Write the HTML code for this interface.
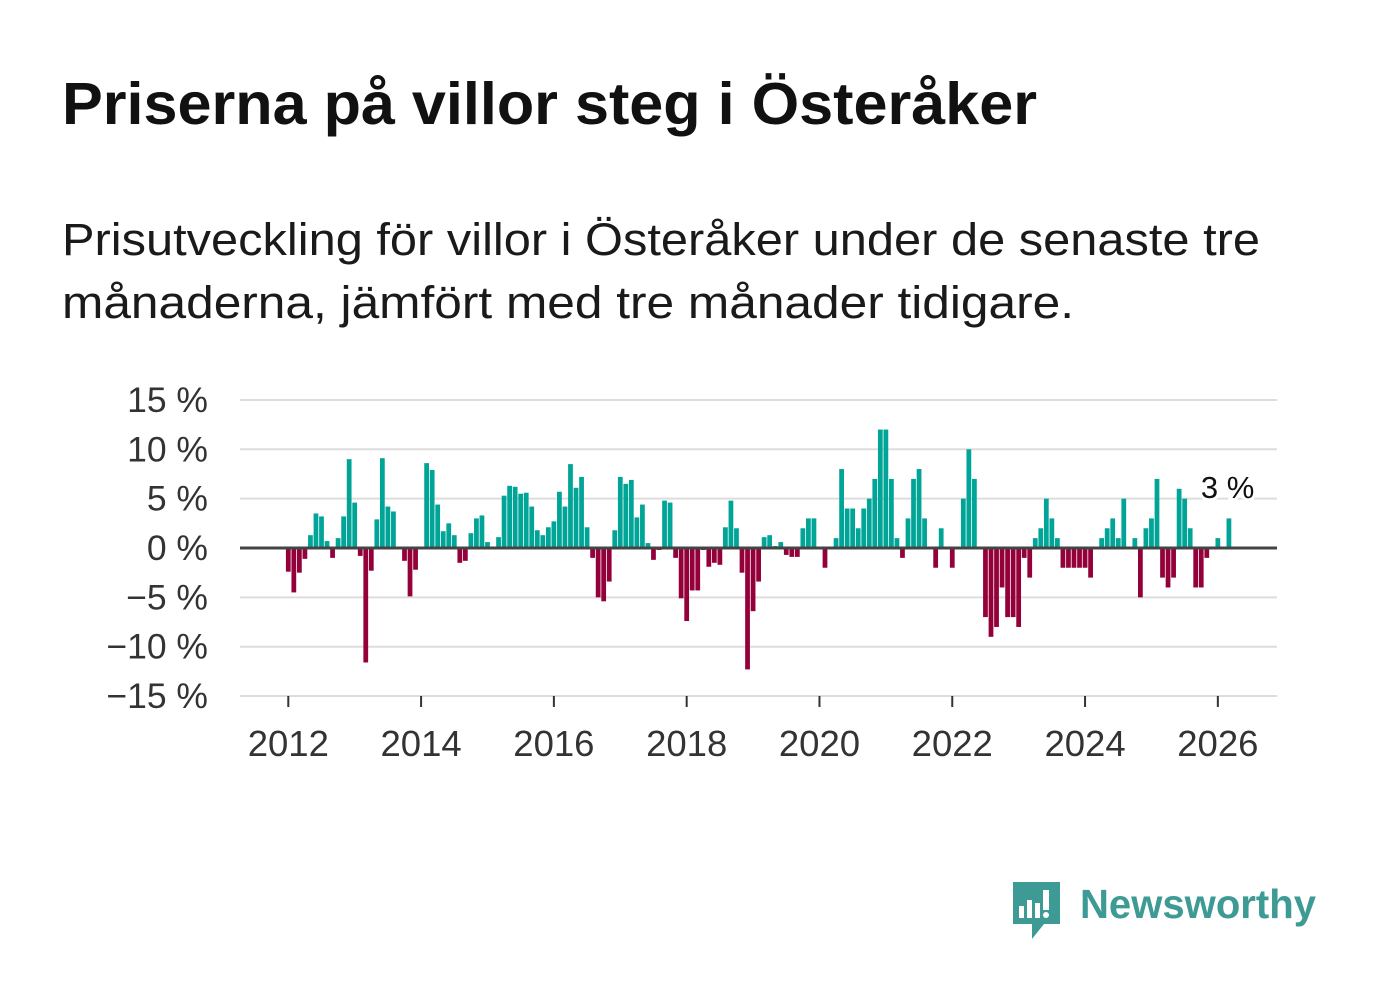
<!DOCTYPE html>
<html><head><meta charset="utf-8">
<style>
html,body{margin:0;padding:0;background:#fff;}
body{width:1382px;height:999px;position:relative;overflow:hidden;font-family:"Liberation Sans",sans-serif;}
#title{position:absolute;left:62px;top:70px;font-size:59px;line-height:68px;font-weight:bold;color:#111;margin:0;white-space:nowrap;transform-origin:0 0;}
.sub{position:absolute;left:62px;font-size:45px;line-height:50px;color:#1a1a1a;margin:0;white-space:nowrap;transform-origin:0 0;}
svg{position:absolute;left:0;top:0;}
</style></head>
<body>
<h1 id="title">Priserna på villor steg i Österåker</h1>
<div>
<p class="sub" id="sub1" style="top:215px">Prisutveckling för villor i Österåker under de senaste tre</p>
<p class="sub" id="sub2" style="top:278px">månaderna, jämfört med tre månader tidigare.</p>
</div>
<svg id="chart" width="1382" height="999"></svg>
<script>
const startYear = 2012;
const values = [
-2.4,-4.5,-2.5,-1.1,1.3,3.5,3.2,0.7,-1.0,1.0,3.2,9.0,
4.6,-0.8,-11.6,-2.3,2.9,9.1,4.2,3.7,0,-1.3,-4.9,-2.2,
0,8.6,7.9,4.4,1.7,2.5,1.3,-1.5,-1.3,1.5,3.0,3.3,
0.6,0,1.1,5.3,6.3,6.2,5.5,5.6,4.2,1.8,1.3,2.1,
2.7,5.7,4.2,8.5,6.1,7.2,2.1,-1.0,-5.0,-5.4,-3.4,1.8,
7.2,6.5,6.9,3.1,4.4,0.5,-1.2,-0.2,4.8,4.6,-1.0,-5.1,
-7.4,-4.3,-4.3,-0.2,-1.9,-1.5,-1.7,2.1,4.8,2.0,-2.5,-12.3,
-6.4,-3.4,1.1,1.3,0.2,0.6,-0.7,-0.9,-0.9,2,3,3,
0,-2,0,1,8,4,4,2,4,5,7,12,
12,7,1,-1,3,7,8,3,0,-2,2,0,
-2,0,5,10,7,0,-7,-9,-8,-4,-7,-7,
-8,-1,-3,1,2,5,3,1,-2,-2,-2,-2,
-2,-3,0,1,2,3,1,5,0,1,-5,2,
3,7,-3,-4,-3,6,5,2,-4,-4,-1,0,
1,0,3
];
const yTicks = [15,10,5,0,-5,-10,-15];
const xTickYears = [2012,2014,2016,2018,2020,2022,2024,2026];
const lastLabel = "3 %";

function fitWidth(id,w){const e=document.getElementById(id);const cw=e.getBoundingClientRect().width;e.style.transform='scaleX('+(w/cw)+')';}
fitWidth('title',975);
fitWidth('sub1',1198);
fitWidth('sub2',1012);

const NS="http://www.w3.org/2000/svg";
const svg=document.getElementById('chart');
const X0=288.3, PITCH=5.533, Y0=548, PPU=9.87, L=240, R=1277;
function xScale(i){return X0+i*PITCH;}
function yScale(v){return Y0-v*PPU;}
function mk(tag,attrs){const e=document.createElementNS(NS,tag);for(const k in attrs)e.setAttribute(k,attrs[k]);svg.appendChild(e);return e;}
function fmt(v){return (v<0?'\u2212'+Math.abs(v):v)+' %';}

yTicks.forEach(t=>{
  if(t!==0){
    const g=mk('line',{x1:L,x2:R,y1:yScale(t),y2:yScale(t),stroke:'#dddddd','stroke-width':2});
    
    
  }
  const tx=mk('text',{x:208,y:yScale(t)+12,'text-anchor':'end','font-size':35.5,fill:'#333','font-family':'Liberation Sans, sans-serif'});
  tx.textContent=fmt(t);
  
  
});

xTickYears.forEach(yr=>{
  const x=xScale((yr-startYear)*12);
  const tk=mk('line',{x1:x,x2:x,y1:696,y2:707,stroke:'#333','stroke-width':2});
  
  
  const tx=mk('text',{x:x,y:756,'text-anchor':'middle','font-size':36.5,fill:'#333','font-family':'Liberation Sans, sans-serif'});
  tx.textContent=yr;
  
  
});

const bw=PITCH*0.86;
values.forEach((v,i)=>{
  if(v===0)return;
  const x=xScale(i)-bw/2;
  const y=v>0?yScale(v):Y0;
  const r=mk('rect',{x:x,y:y,width:bw,height:Math.abs(v)*PPU,fill:v>0?'#00a598':'#94003a'});
  
  
});

const zl=mk('line',{x1:L,x2:R,y1:Y0,y2:Y0,stroke:'#444','stroke-width':3});



const li=values.length-1;
const lab=mk('text',{x:xScale(li)-28,y:498,'text-anchor':'start','font-size':31,fill:'#111',stroke:'#fff','stroke-width':6,'paint-order':'stroke','font-family':'Liberation Sans, sans-serif'});
lab.textContent=lastLabel;


</script>
<svg width="1382" height="999" style="pointer-events:none">
  <path d="M1013 882 h47 v42 h-16 l-12 15 v-15 h-19 z" fill="#3d9a94"/>
  <rect x="1019" y="906" width="5" height="12" fill="#fff"/>
  <rect x="1027" y="900" width="5" height="18" fill="#fff"/>
  <rect x="1035" y="903" width="5" height="15" fill="#fff"/>
  <rect x="1043" y="890" width="6" height="20" fill="#fff"/>
  <circle cx="1046" cy="915" r="3" fill="#fff"/>
  <text x="1080" y="918" font-size="41" font-weight="bold" fill="#3d9a94" textLength="236" lengthAdjust="spacingAndGlyphs" font-family="Liberation Sans, sans-serif">Newsworthy</text>
</svg>
</body></html>
